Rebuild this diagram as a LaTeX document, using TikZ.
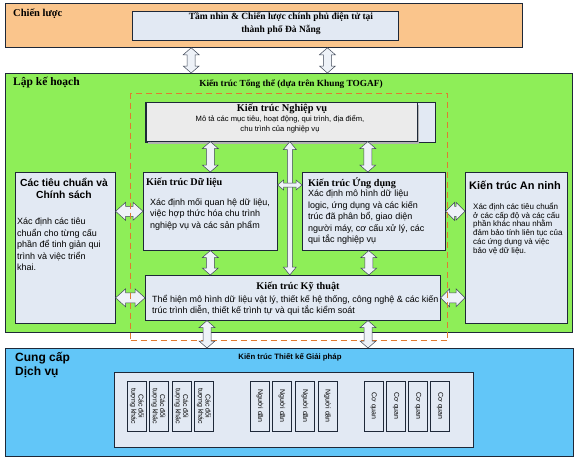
\documentclass[tikz,border=0pt]{standalone}
\usepackage{fontspec}
\setmainfont{Liberation Serif}
\setsansfont{Liberation Sans}
\usetikzlibrary{calc}
\definecolor{peach}{HTML}{FAC58C}
\definecolor{lgreen}{HTML}{8EEE58}
\definecolor{sky}{HTML}{62C6F8}
\definecolor{pale}{HTML}{E2E9F3}
\definecolor{greyb}{HTML}{EBEBEB}
\definecolor{dorange}{HTML}{E07A30}
\definecolor{edge}{HTML}{1E2838}
\definecolor{arrfill}{HTML}{EEF2F8}
\definecolor{arredge}{HTML}{404858}
\newcommand\fs[2]{\fontsize{#1}{#2}\selectfont}
% vertical double block arrow: top point, bottom point, half head, half shaft, head length
\newcommand\VArr[5]{%
  \draw[blk] let \p1=(#1), \p2=(#2) in
   (\x1,\y1) -- (\x1+#3pt,\y1-#5pt) -- (\x1+#4pt,\y1-#5pt) -- (\x1+#4pt,\y2+#5pt)
   -- (\x1+#3pt,\y2+#5pt) -- (\x1,\y2) -- (\x1-#3pt,\y2+#5pt) -- (\x1-#4pt,\y2+#5pt)
   -- (\x1-#4pt,\y1-#5pt) -- (\x1-#3pt,\y1-#5pt) -- cycle;}
% horizontal double block arrow: left point, right point, half head, half shaft, head length
\newcommand\HArr[5]{%
  \draw[blk] let \p1=(#1), \p2=(#2) in
   (\x1,\y1) -- (\x1+#5pt,\y1+#3pt) -- (\x1+#5pt,\y1+#4pt) -- (\x2-#5pt,\y1+#4pt)
   -- (\x2-#5pt,\y1+#3pt) -- (\x2,\y1) -- (\x2-#5pt,\y1-#3pt) -- (\x2-#5pt,\y1-#4pt)
   -- (\x1+#5pt,\y1-#4pt) -- (\x1+#5pt,\y1-#3pt) -- cycle;}
\tikzset{
  band/.style={draw=edge, line width=0.8pt, anchor=north west, inner sep=0pt},
  box/.style={draw=edge, line width=0.6pt, fill=pale, anchor=north west, inner sep=0pt},
  blk/.style={draw=arredge, line width=0.5pt, fill=arrfill, line join=miter},
  ttl/.style={font=\bfseries\fs{10.2}{12}, inner sep=0pt},
  sttl/.style={font=\sffamily\bfseries\fs{10.3}{11.5}, inner sep=0pt},
  body/.style={font=\sffamily\fs{9}{11.5}, align=left, inner sep=0pt, anchor=north west},
  mini/.style={draw=edge, line width=0.6pt, fill=pale, rotate=-90, minimum width=50pt,
    minimum height=19pt, inner sep=0pt, font=\sffamily\fs{7}{7.3}, align=center},
}
\begin{document}
\begin{tikzpicture}[x=1pt,y=-1pt]
\useasboundingbox (0,0) rectangle (576,458);
\fill[white] (0,0) rectangle (576,458);
% ---- Chien luoc band
\node[band, fill=peach, minimum width=517pt, minimum height=44pt] (cl) at (5,3) {};
\node[ttl, anchor=west, font=\bfseries\fs{10.5}{12}] (clt) at (13,14) {Chiến lược};
\node[box, minimum width=266pt, minimum height=29pt] (tn) at (132,11) {};
\node[ttl, align=center, font=\bfseries\fs{9.5}{13}] (tnt) at (281,24) {Tầm nhìn \& Chiến lược chính phủ điện tử tại\\thành phố Đà Nẵng};
% ---- Lap ke hoach band
\node[band, fill=lgreen, minimum width=567pt, minimum height=259pt] (kh) at (5,73) {};
\node[ttl, anchor=west, font=\bfseries\fs{11.5}{13}] (kht) at (13,83) {Lập kế hoạch};
\node[ttl, font=\bfseries\fs{9.3}{11}] (ttt) at (291,84) {Kiến trúc Tổng thể (dựa trên Khung TOGAF)};
% ---- Cung cap dich vu band
\node[band, fill=sky, minimum width=568pt, minimum height=108pt] (cc) at (5,348) {};
\node[font=\sffamily\bfseries\fs{12}{14}, align=left, anchor=north west, inner sep=0pt] (cct) at (15,352) {Cung cấp\\Dịch vụ};
\node[font=\sffamily\bfseries\fs{7.8}{9}, inner sep=0pt] (gpt) at (290,357) {Kiến trúc Thiết kế Giải pháp};
\node[box, minimum width=359pt, minimum height=75pt] (gp) at (114,372) {};
\foreach \i/\x in {1/137,2/158.5,3/181.5,4/204}
  \node[mini] (dt\i) at (\x,406) {Các đối\\tượng khác};
\foreach \i/\x in {1/260,2/282,3/305,4/327.5}
  \node[mini] (nd\i) at (\x,406) {Người dân};
\foreach \i/\x in {1/373.5,2/396,3/418,4/440}
  \node[mini] (cq\i) at (\x,406) {Cơ quan};
% ---- Nghiep vu
\node[box, minimum width=290pt, minimum height=40pt] (nvb) at (145,102) {};
\fill[gray!60] (148,104.5) rectangle (419,144);
\node[draw=edge, fill=greyb, line width=0.6pt, anchor=north west, inner sep=0pt,
  minimum width=271pt, minimum height=39pt] (nv) at (146,102) {};
\node[ttl, font=\bfseries\fs{10.4}{12}] (nvt) at (282,109) {Kiến trúc Nghiệp vụ};
\node[font=\sffamily\fs{7.6}{9.5}, align=center, inner sep=0pt] (nvd) at (280,124) {Mô tả các mục tiêu, hoạt động, qui trình, địa điểm,\\chu trình của nghiệp vụ};
% ---- Du lieu
\node[box, minimum width=134pt, minimum height=78pt] (dl) at (143,172) {};
\node[ttl, anchor=west] (dlt) at (146,183) {Kiến trúc Dữ liệu};
\node[body] (dld) at (150,198) {Xác định mối quan hệ dữ liệu,\\việc hợp thức hóa chu trình\\nghiệp vụ và các sản phẩm};
% ---- Ung dung
\node[box, minimum width=143pt, minimum height=78pt] (ud) at (302,172) {};
\node[ttl, anchor=west] (udt) at (308,183) {Kiến trúc Ứng dụng};
\node[body] (udd) at (308,190) {Xác định mô hình dữ liệu\\logic, ứng dụng và các kiến\\trúc đã phân bổ, giao diện\\người máy, cơ cấu xử lý, các\\qui tắc nghiệp vụ};
% ---- Ky thuat
\node[box, minimum width=295pt, minimum height=45pt] (kt) at (145,275) {};
\node[ttl] (ktt) at (298,287) {Kiến trúc Kỹ thuật};
\node[body] (ktd) at (152,295) {Thể hiện mô hình dữ liệu vật lý, thiết kế hệ thống, công nghệ \& các kiến\\trúc trình diễn, thiết kế trình tự và qui tắc kiểm soát};
% ---- Tieu chuan
\node[box, minimum width=100pt, minimum height=151pt] (ts) at (15,172) {};
\node[sttl, align=center] (tst) at (64,188.5) {Các tiêu chuẩn và\\Chính sách};
\node[body] (tsd) at (17,218) {Xác định các tiêu\\chuẩn cho từng cấu\\phần để tinh giản qui\\trình và việc triển\\khai.};
% ---- An ninh
\node[box, minimum width=102pt, minimum height=151pt] (an) at (465,172) {};
\node[sttl, anchor=west, font=\sffamily\bfseries\fs{11}{12}] (ant) at (469,185) {Kiến trúc An ninh};
\node[body, font=\sffamily\fs{8}{8.9}] (and) at (473,202.5) {Xác định các tiêu chuẩn\\ở các cấp độ và các cấu\\phần khác nhau nhằm\\đảm bảo tính liên tục của\\các ứng dụng và việc\\bảo vệ dữ liệu.};
% ---- connectors
\coordinate (a1) at ($(tn.south west)!0.222!(tn.south east)$);
\coordinate (a2) at ($(tn.south west)!0.733!(tn.south east)$);
\VArr{a1 |- cl.south}{a1 |- kh.north}{8}{4}{7}
\VArr{a2 |- cl.south}{a2 |- kh.north}{8}{4}{7}
\VArr{dl.north |- nv.south}{dl.north}{8}{4}{7}
\coordinate (u1) at ($(ud.north)+(-6,0)$);
\VArr{u1 |- nv.south}{u1}{8}{4}{7}
\VArr{dl.south}{dl.south |- kt.north}{8}{4}{7}
\coordinate (u2) at ($(ud.south)+(-5,0)$);
\VArr{u2}{u2 |- kt.north}{8}{4}{7}
\coordinate (mid) at ($(dl.east)!0.5!(ud.west)$);
\VArr{mid |- nv.south}{mid |- kt.north}{6.5}{2.5}{8}
\HArr{$(dl.north east)+(0,13)$}{$(ud.north west)+(0,13)$}{5}{2}{6}
\HArr{ts.east |- dl.west}{dl.west}{9}{5}{10}
\HArr{ts.east |- kt.west}{kt.west}{9}{5}{10}
\HArr{ud.east}{an.west |- ud.east}{9}{5}{9}
\HArr{kt.east}{an.west |- kt.east}{9}{5}{9}
% dashed TOGAF frame
\node[draw=dorange, dashed, dash pattern=on 6pt off 4pt, line width=1.2pt, anchor=north west,
  inner sep=0pt, minimum width=317pt, minimum height=247pt] (tt) at (130,93) {};
\coordinate (b1) at ($(kt.south west)+(62,0)$);
\coordinate (b2) at ($(kt.south west)+(223,0)$);
\VArr{b1}{b1 |- cc.north}{8}{4}{7}
\VArr{b2}{b2 |- cc.north}{8}{4}{7}
\end{tikzpicture}
\end{document}
